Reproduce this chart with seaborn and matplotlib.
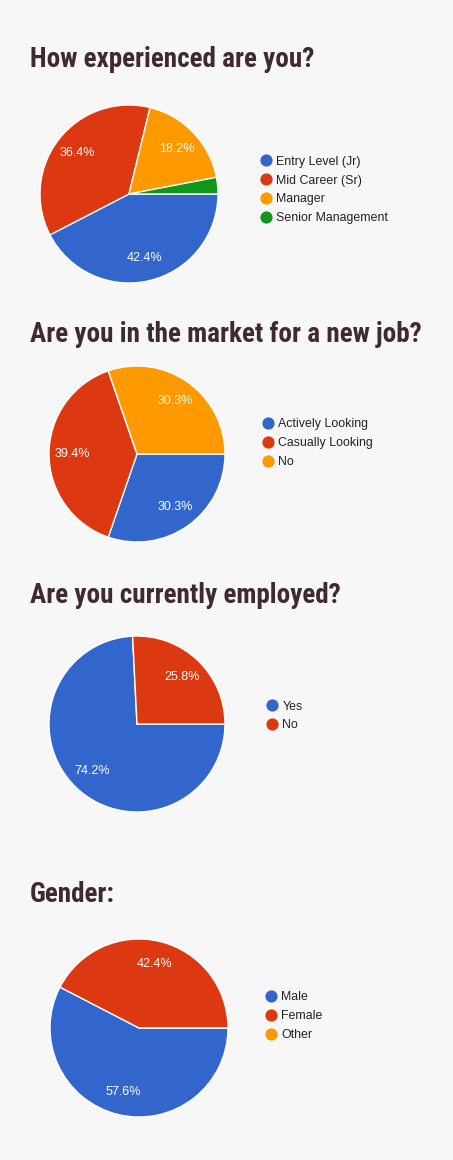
"""Survey results: four Google-style pie charts stacked vertically."""

import matplotlib
matplotlib.use('Agg')
import matplotlib.pyplot as plt
from matplotlib import font_manager
from matplotlib.lines import Line2D
import seaborn as sns

# ---- data -------------------------------------------------------------
titles = [
    'How experienced are you?',
    'Are you in the market for a new job?',
    'Are you currently employed?',
    'Gender:',
]

experience_labels = ['Entry Level (Jr)', 'Mid Career (Sr)', 'Manager', 'Senior Management']
experience_values = [42.4, 36.4, 18.2, 3.0]

market_labels = ['Actively Looking', 'Casually Looking', 'No']
market_values = [30.3, 39.4, 30.3]

employed_labels = ['Yes', 'No']
employed_values = [74.2, 25.8]

gender_labels = ['Male', 'Female', 'Other']
gender_values = [57.6, 42.4, 0.0]

palette = ['#3366cc', '#dc3912', '#ff9900', '#109618']

# ---- layout (pixels) ----------------------------------------------------
W, H = 453, 1160
BG = '#f7f7f7'
TITLE_COLOR = '#3f2a33'

sns.set_theme(style='white')
plt.rcParams['font.family'] = ['Liberation Sans', 'DejaVu Sans']
plt.rcParams['figure.facecolor'] = BG
plt.rcParams['savefig.facecolor'] = BG

# narrowest bold family we can find for the headings
installed = {f.name for f in font_manager.fontManager.ttflist}
title_family = 'DejaVu Sans'
title_stretch = 'normal'
for name in ['Roboto Condensed', 'Liberation Sans Narrow', 'Open Sans Condensed',
             'Noto Sans Condensed', 'DejaVu Sans Condensed']:
    if name in installed:
        title_family = name
        break
else:
    condensed = [f for f in font_manager.fontManager.ttflist
                 if 'Condensed' in f.fname or 'Narrow' in f.fname]
    if condensed:
        title_family = condensed[0].name
        title_stretch = 'condensed'

fig = plt.figure(figsize=(W / 100, H / 100), dpi=100)

panels = [
    # labels, values, title baseline, pie centre, radius, legend left, legend centre
    (experience_labels, experience_values, 67, (129, 194), 89, 261, 190),
    (market_labels, market_values, 342, (137, 454), 88, 263, 443),
    (employed_labels, employed_values, 603, (137, 724), 88, 267, 716),
    (gender_labels, gender_values, 902, (139, 1028), 89, 266, 1016),
]


def pct_label(p):
    return f'{p:.1f}%' if p >= 5 else ''


title_texts = []
for title, (labels, values, ty, (cx, cy), r, lx, ly) in zip(titles, panels):
    t = fig.text(30 / W, 1 - ty / H, title, ha='left', va='baseline',
                 fontsize=19, fontweight='bold', color=TITLE_COLOR,
                 family=title_family, fontstretch=title_stretch)
    title_texts.append(t)

    ax = fig.add_axes([(cx - r) / W, 1 - (cy + r) / H, 2 * r / W, 2 * r / H])
    ax.set_facecolor(BG)
    colors = palette[:len(values)]
    ax.pie(values, colors=colors, startangle=0, counterclock=False, radius=1,
           autopct=pct_label, pctdistance=0.74,
           wedgeprops=dict(edgecolor='white', linewidth=1),
           textprops=dict(color='white', fontsize=9))
    ax.set_xlim(-1, 1)
    ax.set_ylim(-1, 1)
    ax.set_aspect('equal')
    ax.axis('off')

    handles = [Line2D([], [], marker='o', linestyle='none', markersize=7.8,
                      markerfacecolor=c, markeredgecolor=c) for c in colors]
    fig.legend(handles, labels, loc='center left',
               bbox_to_anchor=(lx / W, 1 - ly / H), frameon=False,
               fontsize=8.9, labelcolor='#222222', borderpad=0,
               borderaxespad=0, handlelength=0.8, handletextpad=0.45,
               labelspacing=0.56)

# the longest heading spans about 392 px in the reference
renderer = fig.canvas.get_renderer()
width = title_texts[1].get_window_extent(renderer).width
size = min(19 * 392 / width, 22)
for t in title_texts:
    t.set_fontsize(size)

fig.savefig('out.png', dpi=100)
plt.close(fig)
